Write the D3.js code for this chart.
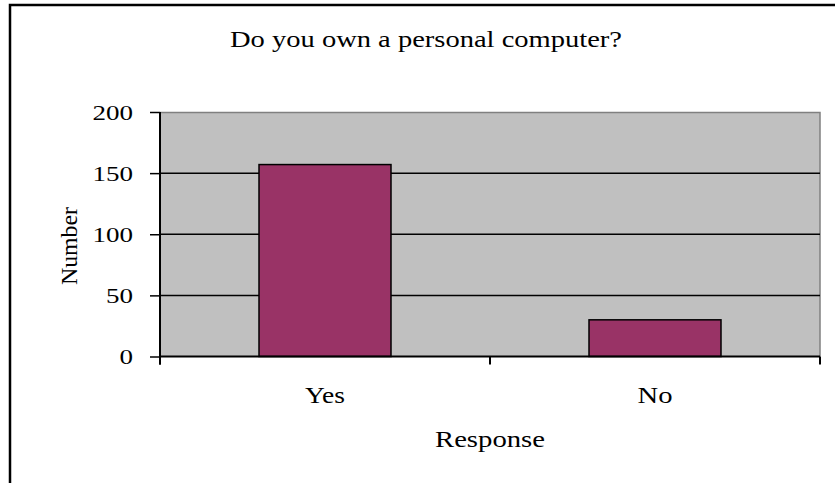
<!DOCTYPE html>
<html>
<head>
<meta charset="utf-8">
<script src="https://cdn.jsdelivr.net/npm/d3@7"></script>
<style>
  body { margin: 0; background: #fff; }
  svg { display: block; }
  text { font-family: "Liberation Serif", "Times New Roman", serif; fill: #000; }
</style>
</head>
<body>
<svg id="chart" width="835" height="483"></svg>
<script>
// chart data
const categories = ["Yes", "No"];
const counts = [157, 30];
const yTicks = [0, 50, 100, 150, 200];
const titleText = "Do you own a personal computer?";
const xTitle = "Response";
const yTitle = "Number";

const svg = d3.select("#chart");
const margin = {top: 112, right: 15, bottom: 126.5, left: 160},
    width = 820 - margin.left,
    height = 356.5 - margin.top;
const labelSize = "23px",
    tickSize = "21px";

// outer frame
svg.append("rect")
    .attr("x", 10).attr("y", 5)
    .attr("width", 840).attr("height", 500)
    .attr("fill", "none").attr("stroke", "#000").attr("stroke-width", 2.5);

const g = svg.append("g").attr("transform", "translate(" + margin.left + "," + margin.top + ")");

const x = d3.scaleBand().domain(categories).range([0, width]).paddingInner(0.6).paddingOuter(0.3);
const y = d3.scaleLinear().domain([0, 200]).range([height, 0]);

// plot background
g.append("rect")
    .attr("width", width).attr("height", height)
    .attr("fill", "#c0c0c0");
g.append("path")
    .attr("d", "M0,0.5H" + width + "V" + height)
    .attr("fill", "none").attr("stroke", "#808080").attr("stroke-width", 1.5);

// gridlines
g.selectAll(".grid")
    .data(yTicks.filter(d => d > 0 && d < 200))
    .join("line")
    .attr("class", "grid")
    .attr("x1", 0).attr("x2", width)
    .attr("y1", d => y(d)).attr("y2", d => y(d))
    .attr("stroke", "#000").attr("stroke-width", 1.5);

// bars
g.selectAll(".bar")
    .data(categories)
    .join("rect")
    .attr("class", "bar")
    .attr("x", d => x(d))
    .attr("y", (d, i) => y(counts[i]))
    .attr("width", x.bandwidth())
    .attr("height", (d, i) => height - y(counts[i]))
    .attr("fill", "#993366")
    .attr("stroke", "#000").attr("stroke-width", 1.5);

// y axis
const yAxis = g.append("g")
    .call(d3.axisLeft(y).tickValues(yTicks).tickSize(10).tickPadding(17));
yAxis.select(".domain").attr("d", "M0,0V" + (height + 8)).attr("stroke-width", 2);
yAxis.selectAll(".tick line").attr("stroke-width", 1.5);
yAxis.selectAll(".tick text")
    .style("font-size", tickSize)
    .attr("dy", "0.34em")
    .attr("textLength", d => String(d).length * 13.5)
    .attr("lengthAdjust", "spacingAndGlyphs");

// x axis with ticks between categories
const xBounds = [0, width / 2, width];
const xAxis = g.append("g").attr("transform", "translate(0," + height + ")");
xAxis.append("line")
    .attr("x1", 0).attr("x2", width)
    .attr("stroke", "#000").attr("stroke-width", 2);
xAxis.selectAll(".xtick")
    .data(xBounds)
    .join("line")
    .attr("class", "xtick")
    .attr("x1", d => d).attr("x2", d => d)
    .attr("y1", 0).attr("y2", 8)
    .attr("stroke", "#000").attr("stroke-width", 2);
xAxis.selectAll(".xlabel")
    .data(categories)
    .join("text")
    .attr("class", "xlabel")
    .attr("x", d => x(d) + x.bandwidth() / 2)
    .attr("y", 46)
    .attr("text-anchor", "middle")
    .style("font-size", labelSize)
    .attr("textLength", d => d.length === 2 ? 35 : 40)
    .attr("lengthAdjust", "spacingAndGlyphs")
    .text(d => d);

// titles
svg.append("text")
    .attr("x", 426).attr("y", 47)
    .attr("text-anchor", "middle")
    .style("font-size", labelSize)
    .attr("textLength", 392)
    .attr("lengthAdjust", "spacingAndGlyphs")
    .text(titleText);

svg.append("text")
    .attr("x", 490).attr("y", 447)
    .attr("text-anchor", "middle")
    .style("font-size", labelSize)
    .attr("textLength", 110)
    .attr("lengthAdjust", "spacingAndGlyphs")
    .text(xTitle);

svg.append("text")
    .attr("transform", "translate(77,246) rotate(-90)")
    .attr("text-anchor", "middle")
    .style("font-size", labelSize)
    .attr("textLength", 78)
    .attr("lengthAdjust", "spacingAndGlyphs")
    .text(yTitle);
</script>
</body>
</html>
